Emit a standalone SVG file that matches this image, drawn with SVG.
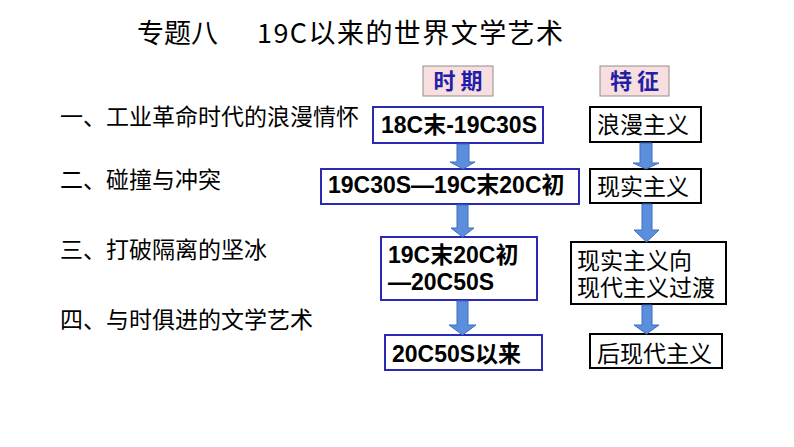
<svg xmlns="http://www.w3.org/2000/svg" width="794" height="447" viewBox="0 0 794 447">
<style>
.title{font-family:"Noto Sans CJK SC","Liberation Sans",sans-serif;font-size:27px;fill:#000}
.lbl{font-family:"Noto Sans CJK SC","Liberation Sans",sans-serif;font-size:23px;fill:#000}
.hdr{fill:#F8DEDE;stroke:#8E8E8E;stroke-width:1}
.hdrt{font-family:"Noto Sans CJK SC",sans-serif;font-size:22px;font-weight:bold;fill:#1F1FA8}
.pbox{fill:#fff;stroke:#2A2AB4;stroke-width:2}
.fbox{fill:#fff;stroke:#000;stroke-width:2}
.pt{font-family:"Liberation Sans","Noto Sans CJK SC",sans-serif;font-size:23px;font-weight:bold;fill:#000}
.ft{font-family:"Liberation Sans","Noto Sans CJK SC",sans-serif;font-size:23px;fill:#000}
.arr{fill:#5B8EDC;stroke:#3F6FC0;stroke-width:1}
</style>
<rect width="794" height="447" fill="#fff"/>
<g id="title">
<text class="title" x="137" y="43">专题八</text>
<text class="title" x="257" y="43" textLength="306" lengthAdjust="spacing">19C以来的世界文学艺术</text>
</g>
<g id="labels">
<text class="lbl" x="60" y="125">一、工业革命时代的浪漫情怀</text>
<text class="lbl" x="60" y="188">二、碰撞与冲突</text>
<text class="lbl" x="60" y="258">三、打破隔离的坚冰</text>
<text class="lbl" x="60" y="328">四、与时俱进的文学艺术</text>
</g>
<g id="hdr-period">
<rect class="hdr" x="423" y="66" width="70" height="30"/>
<text class="hdrt" x="458" y="89" text-anchor="middle">时 期</text>
</g>
<g id="hdr-feature">
<rect class="hdr" x="600" y="66" width="69" height="30"/>
<text class="hdrt" x="634.5" y="89" text-anchor="middle">特 征</text>
</g>
<g id="p1">
<rect class="pbox" x="373" y="107" width="170" height="36"/>
<text class="pt" x="381" y="133">18C末-19C30S</text>
</g>
<g id="p2">
<rect class="pbox" x="321" y="169" width="258" height="35"/>
<text class="pt" x="328" y="193">19C30S—19C末20C初</text>
</g>
<g id="p3">
<rect class="pbox" x="381" y="237" width="156" height="63"/>
<text class="pt" x="388" y="263">19C末20C初</text>
<text class="pt" x="388" y="290">—20C50S</text>
</g>
<g id="p4">
<rect class="pbox" x="385" y="335" width="157" height="35"/>
<text class="pt" x="392" y="362">20C50S以来</text>
</g>
<g id="f1">
<rect class="fbox" x="590" y="107" width="111" height="35"/>
<text class="ft" x="597" y="133">浪漫主义</text>
</g>
<g id="f2">
<rect class="fbox" x="590" y="169" width="111" height="34"/>
<text class="ft" x="597" y="195">现实主义</text>
</g>
<g id="f3">
<rect class="fbox" x="571" y="242" width="155" height="62"/>
<text class="ft" x="577" y="269">现实主义向</text>
<text class="ft" x="577" y="296">现代主义过渡</text>
</g>
<g id="f4">
<rect class="fbox" x="590" y="334" width="132" height="34"/>
<text class="ft" x="597" y="362">后现代主义</text>
</g>
<g id="connectors">
<path class="arr" d="M457 144 H469 V162 H475 L463 169 L450 162 H457 Z"/>
<path class="arr" d="M457 205 H468 V228 H474 L462.5 237 L451 228 H457 Z"/>
<path class="arr" d="M457 301 H468 V325 H476 L462.5 335 L449 325 H457 Z"/>
<path class="arr" d="M640 143 H652 V163 H659 L646 169 L633 163 H640 Z"/>
<path class="arr" d="M642 204 H652 V230 H659 L646.5 242 L634 230 H642 Z"/>
<path class="arr" d="M642 305 H652 V325 H659 L646.5 334 L634 325 H642 Z"/>
</g>
</svg>
